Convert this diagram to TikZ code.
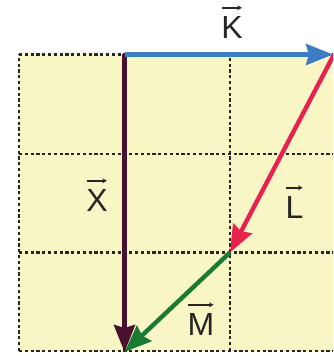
\documentclass[tikz,border=0pt]{standalone}
\usepackage{fontspec}
\setmainfont{Liberation Sans}
\usetikzlibrary{arrows.meta}
\definecolor{cellfill}{HTML}{F9F6C6}
\definecolor{vK}{HTML}{3B7DC4}
\definecolor{vX}{HTML}{4A1030}
\definecolor{vL}{HTML}{E8224E}
\definecolor{vM}{HTML}{1B7A32}
\tikzset{
  gridline/.style={black!85, line width=2.6pt, dash pattern=on 3.2pt off 2.6pt},
  vecarrow/.style={line width=4.4pt, -{Stealth[length=27pt,width=21pt,inset=3pt]}},
  lbl/.style={inner sep=0pt, font=\fontsize{32}{38}\selectfont, text=black!85},
  accent/.style={line width=1.8pt, black!85, -{Stealth[length=4.5pt,width=5pt]}}
}
\begin{document}
\begin{tikzpicture}[x=1pt,y=1pt]
\useasboundingbox (0,0) rectangle (333,356);
\clip (0,0) rectangle (333,356);
% grid
\fill[cellfill] (19,5) rectangle (335.5,301.5);
\foreach \x in {19,124.5,230,335.5} \draw[gridline] (\x,5) -- (\x,301.5);
\foreach \y in {5,103.5,202,301.5} \draw[gridline] (19,\y) -- (335.5,\y);
% points
\coordinate (O) at (124.5,301.5);
\coordinate (Kend) at (333,301.5);
\coordinate (Lstart) at (334,301.5);
\coordinate (Lend) at (230,103.5);
\coordinate (Xend) at (124.5,4);
% vectors
\draw[vecarrow, vX] (O) -- (Xend);
\draw[vecarrow, vK] (O) -- (Kend);
\draw[vecarrow, vL] (Lstart) -- (Lend);
\draw[vecarrow, vM] (Lend) -- (Xend);
% labels
\node[lbl] (K) at (232,329) {K};
\node[lbl] (X) at (97,156) {X};
\node[lbl] (L) at (294.5,149) {L};
\node[lbl] (M) at (201,32) {M};
\foreach \n in {K,X,L,M}
  \draw[accent] ([xshift=1pt,yshift=8pt]\n.north west) -- ([xshift=-1pt,yshift=8pt]\n.north east);
\end{tikzpicture}
\end{document}
